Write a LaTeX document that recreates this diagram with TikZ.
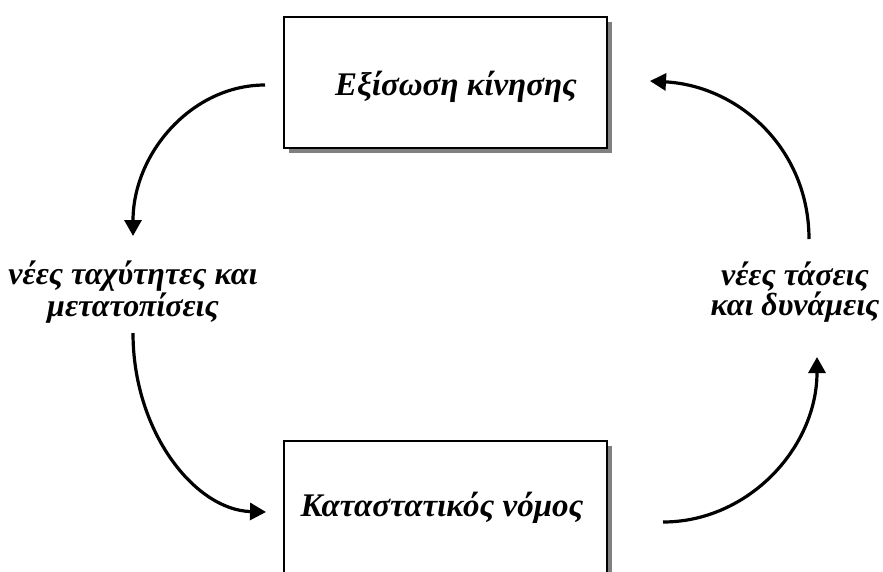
\documentclass[tikz,border=0pt]{standalone}
\usepackage{fontspec}
\setmainfont{Liberation Serif}
\usetikzlibrary{arrows.meta,shadows}
\definecolor{shadowgray}{RGB}{128,128,128}
\begin{document}
\begin{tikzpicture}[x=1pt,y=-1pt,
  box/.style={draw=black, line width=2pt, fill=white, inner sep=0pt,
    minimum width=323pt,
    general shadow={fill=shadowgray, shadow xshift=5pt, shadow yshift=-5pt}},
  boxtext/.style={font=\fontsize{33}{38}\selectfont\bfseries\itshape, inner sep=0pt},
  lbl/.style={font=\fontsize{32}{29.5}\selectfont\bfseries\itshape, inner sep=0pt, align=center},
  arr/.style={line width=3.2pt, -{Triangle[length=16pt,width=17pt]}}]
\useasboundingbox (0,0) rectangle (883,571);
\clip (0,0) rectangle (883,571);
% boxes
\node[box, minimum height=131pt] (eq) at (445.5,82.5) {};
\node[box, minimum height=180pt] (law) at (445.5,531) {};
% texts
\node[boxtext, anchor=base] (teq) at (456,95) {Εξίσωση κίνησης};
\node[boxtext, anchor=base] (tlaw) at (442,516) {Καταστατικός νόμος};
\node[lbl] (left) at (133,292) {νέες ταχύτητες και\\μετατοπίσεις};
\node[lbl] (right) at (795,292) {νέες τάσεις\\και δυνάμεις};
% arrow ends
\coordinate (a1s) at (265,85);  \coordinate (a1e) at (133,236);
\coordinate (a2s) at (809,239); \coordinate (a2e) at (650,81);
\coordinate (a3s) at (133,333); \coordinate (a3e) at (266,512);
\coordinate (a4s) at (663,522); \coordinate (a4e) at (817,357);
\draw[arr] (a1s) .. controls (192,85) and (133,153) .. (a1e);
\draw[arr] (a2s) .. controls (809,150) and (740,86) .. (a2e);
\draw[arr] (a3s) .. controls (133,432) and (195,510) .. (a3e);
\draw[arr] (a4s) .. controls (748,522) and (817,448) .. (a4e);
\end{tikzpicture}
\end{document}
